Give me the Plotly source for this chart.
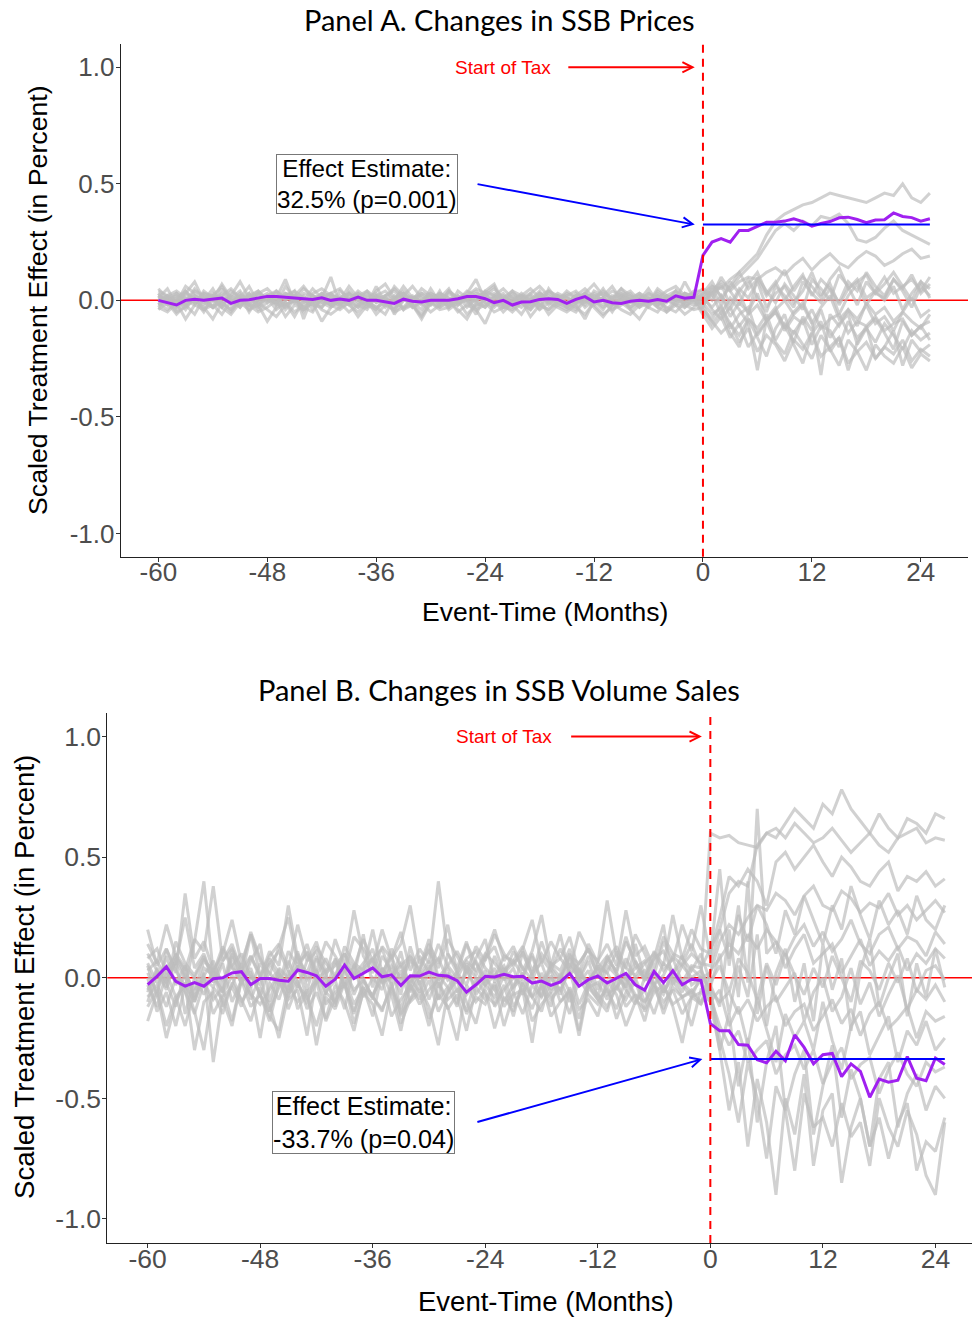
import plotly.graph_objects as go

# event time in months
months = list(range(-60, 26))

# treated unit (purple) - scaled treatment effect
treated_a = [0.0, -0.01, -0.02, 0.0, 0.005, 0.0, 0.005, 0.01, -0.013, 0.0,
             0.003, 0.01, 0.017, 0.017, 0.014, 0.011, 0.007, 0.004, 0.011, 0.0,
             0.006, 0.0, 0.014, 0.0, 0.0, -0.005, -0.013, 0.005, -0.004, -0.007,
             0.0, 0.0, 0.0, 0.007, 0.016, 0.016, 0.007, -0.01, 0.0, -0.02,
             -0.007, -0.006, 0.004, 0.007, 0.004, -0.013, 0.004, 0.016, -0.007, 0.0,
             -0.01, -0.013, -0.004, 0.0, -0.004, 0.004, -0.004, 0.019, 0.009, 0.013,
             0.193, 0.25, 0.265, 0.25, 0.30, 0.30, 0.317, 0.335, 0.335, 0.34,
             0.35, 0.338, 0.318, 0.33, 0.338, 0.354, 0.357, 0.347, 0.333, 0.345,
             0.346, 0.375, 0.36, 0.355, 0.34, 0.35]
treated_b = [-0.029, 0.006, 0.046, -0.015, -0.035, -0.02, -0.035, -0.004, 0.0, 0.02,
             0.025, -0.029, -0.003, -0.003, -0.01, -0.014, 0.032, 0.022, 0.008, -0.035,
             -0.006, 0.052, -0.003, 0.019, 0.041, 0.004, 0.012, -0.032, 0.008, 0.007,
             0.023, 0.01, 0.007, -0.012, -0.06, -0.029, 0.006, 0.003, 0.014, 0.004,
             0.006, -0.022, -0.014, -0.032, -0.017, 0.018, -0.035, -0.008, 0.007, -0.022,
             -0.003, 0.018, -0.029, -0.051, 0.026, -0.02, 0.029, -0.029, -0.006, -0.011,
             -0.19, -0.22, -0.22, -0.277, -0.28, -0.34, -0.353, -0.305, -0.344, -0.237,
             -0.289, -0.357, -0.319, -0.314, -0.41, -0.357, -0.388, -0.496, -0.42, -0.433,
             -0.425, -0.327, -0.417, -0.427, -0.333, -0.36]

effect_a = 0.325
effect_b = -0.337
label_a = "Effect Estimate:<br>32.5% (p=0.001)"
label_b = "Effect Estimate:<br>-33.7% (p=0.04)"

# tick labels (plain hyphen minus, as in the original)
xticks = [-60, -48, -36, -24, -12, 0, 12, 24]
xticktext = ["-60", "-48", "-36", "-24", "-12", "0", "12", "24"]
yticks = [-1, -0.5, 0, 0.5, 1]
yticktext = ["-1.0", "-0.5", "0.0", "0.5", "1.0"]

# placebo units (grey), values in hundredths, months -60..-1
placebo_a_pre = [
    [2, -1, 3, 0, -2, 4, 1, -3, 2, 0, -1, 3, 5, 1, -2, 0, 2, -4, 1, 3, 0, -2, 2, 4, -1, 1, -3, 0, 2, -1,
     3, 1, -2, 0, 4, 2, -1, -3, 1, 0, 2, -2, 1, 3, 0, -1, 2, 5, 1, -2, 0, 3, -1, 1, -3, 2, 0, 4, 1, 2],
    [-3, 1, -2, 4, 0, -5, 2, 1, -1, 3, -4, 0, 2, -2, 6, 1, -3, 0, 3, -1, -2, 4, 0, -3, 1, 2, -6, 0, 1, -2,
     5, -1, 0, 2, -3, 1, 3, -2, 0, 4, -1, -4, 2, 0, 1, -3, 3, -1, 2, 0, -5, 1, 3, -2, 0, 2, -1, 4, -3, 1],
    [4, 2, -1, 6, 3, 0, 5, -2, 2, 8, 1, 3, -1, 4, 0, 2, 6, 1, -3, 3, 5, 0, 2, -1, 4, 7, 1, 3, 0, 5,
     2, -2, 4, 1, 3, 9, 0, 2, 5, 1, -1, 3, 6, 2, 0, 4, 1, 3, 7, 2, 0, 5, 2, -1, 3, 1, 4, 6, 2, 3],
    [-4, -1, -6, -2, 0, -3, -8, -1, -4, 1, -2, -5, -3, 0, -7, -2, -4, -1, -9, -3, 0, -2, -5, -1, -3, -6, 1, -4, -2, -7,
     -1, -3, 0, -5, -2, -4, -10, -1, -3, -2, -6, 0, -4, -1, -3, -5, -2, -8, 0, -3, -1, -4, -6, -2, 0, -3, -5, -1, -2, -4],
    [1, 5, -2, 3, 8, 0, 2, -3, 4, 1, 6, -1, 2, 3, -4, 0, 5, 2, 1, 10, -2, 3, 0, 4, 1, -1, 6, 2, -3, 0,
     3, 1, 5, -2, 2, 0, 4, 7, -1, 3, 1, 2, -4, 5, 0, 3, 1, -2, 4, 2, 6, 0, 1, 3, -1, 5, 2, 0, 8, 1],
    [-2, 0, -5, -3, 1, -4, -2, -6, 0, -3, 2, -1, -4, -7, -2, 0, -3, -5, 1, -2, -4, -1, -3, 0, -6, -2, -4, 1, -3, -1,
     -5, -2, 0, -4, -8, -1, -3, 2, -2, -5, -1, -3, 0, -6, -2, -4, -1, 0, -3, -7, -2, 1, -4, -1, -3, -5, 0, -2, -6, -3],
    [3, -2, 1, -4, 2, 0, -3, 5, -1, 2, -5, 1, 3, -2, 0, 4, -8, 2, -1, 1, -3, 3, 0, -2, 6, -1, 2, -4, 1, 0,
     -2, 4, -3, 1, 0, -6, 2, 3, -1, -3, 1, 0, 4, -2, 2, -1, -4, 1, 3, 0, -2, 2, -3, 0, 5, -1, 1, -2, 3, 0],
    [0, 2, 4, 1, -1, 3, 2, 6, 0, 1, 3, -2, 2, 4, 1, 0, -1, 3, 5, 2, 1, 0, 3, -1, 2, 4, 0, 6, 1, 2,
     -1, 3, 1, 0, 2, 5, 3, -2, 1, 4, 2, 0, 3, 1, -1, 2, 4, 0, 2, 3, 1, 5, 0, 2, -1, 3, 1, 2, 0, 4],
    [-1, -4, 0, -2, -6, 1, -3, -1, -5, 0, -2, -3, 1, -4, -1, -7, 0, -2, -3, 1, -1, -5, -2, 0, -3, -1, -4, 2, -2, -6,
     0, -3, -1, -2, 1, -4, -2, 0, -5, -1, -3, 1, -2, -4, 0, -1, -3, -6, -1, 0, -4, -2, 0, -3, -1, 1, -5, -2, -3, 0],
    [5, 1, 3, -2, 4, 2, 0, 7, 1, -3, 2, 4, 0, 1, 9, -1, 3, 2, 0, -2, 4, 1, 3, 0, -4, 2, 5, 1, -1, 3,
     0, 2, -3, 4, 1, 0, 3, 6, -2, 1, 2, -1, 0, 4, 2, -2, 1, 3, 0, 5, -1, 2, 4, 0, 1, -3, 2, 0, 3, 1],
    [-3, -5, -1, -8, -2, -4, 0, -3, -6, -1, -4, -2, -9, -3, -1, -5, -2, 0, -4, -6, -3, -1, -7, -2, -4, 0, -5, -3, -2, -8,
     -1, -4, -3, 0, -6, -2, -1, -5, -3, -4, 0, -7, -2, -4, -1, -3, -5, 0, -2, -6, -3, -1, -4, -8, -2, 0, -3, -5, -1, -2],
    [2, 0, 1, 4, -1, 3, 0, 2, 5, 1, -2, 3, 1, 0, 2, 4, 1, -1, 3, 2, 0, 6, 1, 3, -1, 2, 4, 0, 1, 3,
     2, -1, 4, 1, 0, 3, 2, 5, 1, -1, 3, 0, 2, 4, 1, 2, -2, 3, 0, 1, 4, 2, 0, 3, 1, -1, 2, 4, 1, 0],
    [1, -2, 0, 3, -1, 2, -3, 0, 1, 4, -2, 0, 2, -1, 3, 1, -4, 0, 2, -2, 1, 3, -1, 0, 2, -3, 1, 4, 0, -1,
     2, -2, 3, 0, 1, -1, 4, 2, -3, 0, 1, 3, -2, 0, 2, 1, -1, 3, 0, -4, 2, 1, -1, 0, 3, -2, 1, 0, 2, -1],
    [-2, 1, -4, 0, 2, -1, -3, 1, 0, -2, 3, -4, -1, 1, -2, 0, -5, 2, -1, -3, 0, 1, -2, -4, 2, 0, -1, -3, 1, 0,
     -2, 2, -4, -1, 0, -3, 1, -2, 0, 2, -1, -4, 0, 1, -2, -1, 2, -3, 0, 1, -2, 0, -3, 1, -1, 2, -4, 0, -1, 1],
    [3, 0, 2, -1, 5, 1, 0, 3, -2, 2, 1, 4, 0, -1, 3, 2, 0, 5, 1, -2, 2, 0, 4, 1, 3, -1, 0, 2, 6, 1,
     0, 3, 1, -1, 2, 4, 0, 1, 3, -2, 2, 5, 1, 0, 3, 1, -1, 2, 0, 4, 1, 3, 0, 2, -1, 4, 1, 0, 3, 2],
    [-1, 2, -3, 1, 0, -2, 3, -1, -4, 0, 2, -2, 1, -1, -3, 2, 0, -2, 1, 3, -1, 0, -3, 2, 1, -2, 0, 3, -1, -4,
     1, 0, -2, 2, -1, 0, -3, 1, 2, -1, 0, -2, 3, -1, 1, -3, 0, 2, -2, 1, -1, 0, 2, -3, 1, -2, 0, 1, -1, 2],
]
# months 0..25
placebo_a_post = [
    [3, 6, 5, 9, 12, 16, 20, 28, 34, 37, 39, 41, 42, 44, 46, 45, 44, 43, 42, 44, 46, 45, 50, 44, 42, 46],
    [2, 4, 8, 5, 10, 14, 18, 24, 30, 33, 30, 34, 32, 36, 35, 37, 33, 26, 25, 27, 31, 34, 30, 28, 26, 24],
    [0, 3, 6, 4, 8, 10, 9, 12, 14, 11, 15, 18, 13, 17, 20, 16, 14, 18, 21, 19, 15, 17, 20, 22, 18, 19],
    [-3, 5, -2, 8, 3, -6, 10, 4, -1, 7, 2, -4, 9, 5, 0, 11, 6, -2, 8, 3, 1, 9, 4, -3, 6, 2],
    [-5, -9, -14, -10, -18, -12, -22, -15, -19, -26, -17, -21, -14, -24, -20, -16, -27, -22, -18, -25, -20, -23, -17, -26, -21, -24],
    [2, -4, -8, -3, -11, -6, -2, -9, -5, -13, -7, -10, -4, -12, -8, -6, -14, -9, -11, -7, -13, -10, -8, -15, -11, -9],
    [-2, 3, -6, 1, -4, -10, -30, -8, -3, -12, -5, -1, -9, -32, -6, -11, -4, -8, -2, -10, -7, -13, -5, -9, -12, -6],
    [4, 0, 7, -2, 5, 1, 8, -3, 3, 6, -1, 4, 12, 2, 7, -2, 5, 9, 1, 4, 10, 3, 6, 0, 8, 5],
    [-6, -12, -7, -16, -10, -20, -14, -9, -18, -23, -13, -19, -25, -15, -21, -28, -17, -22, -30, -19, -24, -27, -20, -29, -23, -26],
    [1, -3, 2, -7, -1, -5, 3, -9, -4, 0, -6, -2, -10, -3, 2, -8, -4, -11, -1, -6, -3, -9, -5, 1, -7, -4],
    [-1, -6, -3, -10, -15, -8, -12, -6, -17, -10, -14, -8, -19, -11, -13, -20, -9, -16, -12, -18, -10, -15, -21, -13, -17, -14],
    [3, 8, 1, 6, 12, 5, 9, 2, 7, 13, 4, 10, 6, 1, 9, 14, 5, 8, 11, 3, 7, 12, 6, 9, 4, 10],
    [0, 6, 2, -4, 4, 9, 1, -5, 6, 2, -3, 8, 3, -1, 5, -6, 2, 7, -2, 4, 0, 6, -4, 3, 8, 1],
    [-4, -8, -2, -12, -6, -3, -15, -9, -5, -11, -18, -7, -13, -4, -16, -10, -6, -19, -12, -8, -14, -21, -9, -15, -11, -17],
    [5, 2, 10, 4, -2, 7, 12, 3, 8, 0, 6, 11, 2, 9, 5, -1, 8, 4, 12, 6, 2, 9, 5, 11, 3, 7],
    [-2, -10, -5, -14, -20, -8, -16, -24, -12, -6, -19, -27, -14, -9, -22, -16, -30, -18, -11, -25, -20, -13, -28, -17, -22, -19],
]

placebo_b_pre = [
    [5, -8, 12, 3, -4, 15, 40, 2, -6, 9, -3, 7, 14, -10, 4, 0, 11, -5, 8, 2, -12, 6, 1, 18, -4, 9, 3, -7, 13, 0,
     5, -9, 10, 2, -3, 8, 16, -2, 4, -6, 11, 1, -8, 6, 3, 12, -1, 7, -5, 9, 2, -4, 14, 0, 8, 22, -3, 5, 10, 6],
    [-10, 2, -5, 8, -15, 0, -7, 4, -12, -3, 6, -9, 1, -14, -4, 7, -2, -11, 3, -6, -1, -13, 5, -8, 0, -5, 10, -16, -2, 3,
     -9, 1, -4, -12, 6, -7, -1, 4, -10, -3, 2, -8, -14, 0, -5, 3, -11, -2, 5, -7, -4, 1, -9, -13, 2, -6, 0, -3, -8, 1],
    [14, 6, 22, 9, 3, 16, 11, 38, 7, 12, 4, 19, 8, 1, 13, 25, 6, 10, 3, 15, 9, 2, 17, 12, 5, 20, 8, 14, 30, 6,
     11, 4, 16, 9, 2, 13, 7, 18, 10, 5, 12, 24, 6, 15, 8, 3, 19, 11, 7, 14, 5, 28, 9, 13, 4, 17, 10, 8, 20, 12],
    [-5, 3, -2, 7, 0, -9, 4, 1, -6, 10, 2, -4, 6, -1, 3, -8, 5, 0, 9, -3, 1, 4, -7, 2, 8, -2, 0, 5, -5, 3,
     12, -1, 4, -6, 2, 7, -3, 1, 5, -4, 0, 9, -2, 3, -7, 6, 1, -1, 4, 2, -5, 8, 0, 3, -3, 6, 2, -6, 4, 0],
    [0, -14, -6, -20, -3, -10, 2, -35, -8, -4, -12, 1, -7, -18, -2, -9, -5, -24, 0, -11, -6, -3, -15, -1, -8, -13, -4, 3, -10, -6,
     -20, -2, -9, -5, -14, 0, -7, -11, -3, -16, -1, -8, -4, -12, 2, -6, -22, -3, -9, -5, -13, 0, -7, -10, -2, -15, -4, -8, -6, -11],
    [8, 12, 2, 6, 25, 4, 10, -1, 7, 14, 3, 9, 0, 11, 5, 30, 8, 2, 13, 6, 1, 10, 4, 16, 7, 0, 12, 5, 9, 3,
     14, 6, 22, 2, 8, 11, 4, 0, 9, 7, 13, 3, 10, 5, 18, 1, 6, 12, 4, 9, 2, 15, 7, 0, 11, 5, 26, 8, 3, 10],
    [-8, -3, -12, 0, -6, -15, -2, -9, -4, -18, -1, -7, -11, -5, 2, -13, -3, -8, -20, -6, -10, -2, -14, -4, -7, 0, -16, -9, -3, -11,
     -5, -1, -13, -7, -22, -4, -9, -2, -12, -6, -15, -3, -8, 1, -10, -5, -17, -2, -7, -12, -4, -9, -1, -14, -6, -3, -11, -8, -5, -10],
    [3, 7, -1, 10, 4, 0, 8, 2, 13, 5, -2, 9, 1, 6, 11, 3, -4, 7, 15, 2, 5, 10, 0, 4, 8, 12, 1, 6, -3, 9,
     2, 14, 5, 0, 7, 3, 10, 6, 1, 11, 4, -1, 8, 3, 12, 5, 0, 9, 2, 7, 13, 4, 1, 6, 10, 3, 8, -2, 5, 4],
    [-12, -5, -20, -8, -3, -30, -10, -6, -15, -2, -9, -18, -4, -11, -25, -7, -1, -13, -6, -17, -3, -10, -22, -5, -8, -14, -2, -19, -9, -4,
     -12, -28, -6, -1, -15, -8, -11, -3, -20, -7, -5, -13, -2, -16, -10, -6, -24, -4, -9, -14, -1, -12, -7, -18, -3, -10, -5, -15, -8, -6],
    [6, -2, 4, 9, 1, -5, 7, 3, -1, 5, 10, 0, -3, 8, 2, -6, 4, 11, -1, 3, 7, -4, 1, 6, 12, -2, 5, 0, 9, -3,
     4, 8, -1, 2, 14, 6, 0, -5, 3, 7, 1, 10, -2, 5, 0, 8, 3, -4, 6, 2, 11, -1, 4, 7, -3, 1, 9, 5, 0, 3],
    [20, 5, 12, 2, 35, 8, 15, 3, 10, 24, 6, 18, 1, 9, 14, 4, 22, 7, 11, 0, 16, 5, 28, 9, 2, 13, 8, 19, 3, 12,
     6, 40, 10, 4, 15, 1, 9, 20, 7, 13, 3, 11, 26, 5, 8, 17, 2, 14, 6, 32, 9, 4, 18, 10, 1, 15, 7, 22, 11, 30],
    [-18, -6, -25, -10, -2, -14, -30, -4, -9, -20, -1, -12, -7, -16, -22, -3, -10, -5, -28, -8, -13, -2, -19, -6, -11, -24, -4, -15, -9, -1,
     -17, -7, -12, -26, -3, -10, -5, -21, -8, -14, -2, -18, -11, -6, -23, -4, -13, -9, -16, -1, -7, -20, -10, -5, -15, -3, -12, -27, -8, -11],
    [2, -6, 9, -3, 5, -10, 1, 7, -4, 12, -2, 4, -8, 6, 0, -5, 10, -1, 3, -7, 8, -3, 5, 0, -9, 4, -2, 11, -6, 1,
     7, -4, 2, -11, 5, 0, -3, 9, -1, 4, -7, 2, 6, -5, 0, 10, -2, 3, -8, 5, 1, -4, 7, -1, 3, -6, 2, 9, -3, 0],
    [-6, 4, -2, -12, 3, -8, 0, -4, 6, -10, -1, 2, -7, -14, 1, -3, 5, -9, -2, 0, -11, 3, -5, -1, -8, 4, -3, -13, 0, -6,
     2, -9, -4, 1, -7, -2, 3, -12, -5, 0, -3, -8, 2, -6, -1, -10, 4, -4, -2, -9, 1, -5, -11, 0, -3, -7, 3, -2, -6, -1],
    [10, 3, -4, 15, 6, 1, 9, -2, 12, 4, 0, 18, 7, 2, -3, 11, 5, 14, 1, 8, -1, 13, 6, 3, 20, 2, 9, -2, 7, 4,
     16, 0, 5, 11, 3, -4, 8, 13, 2, 6, 10, 1, 15, 4, -2, 9, 6, 12, 0, 7, 3, 17, 5, -1, 8, 11, 2, 6, 14, 4],
    [-3, -12, 2, -8, -20, -5, 0, -15, -7, 1, -10, -4, -25, -2, -9, 3, -13, -6, -1, -18, -8, 0, -11, -4, -16, 2, -7, -22, -3, -9,
     -1, -14, -6, 0, -10, -19, -3, -8, 1, -12, -5, -27, -2, -9, -4, -15, 0, -7, -11, -3, -17, -6, 0, -10, -4, -13, -1, -8, -20, -5],
]
placebo_b_post = [
    [5, 20, 35, 40, 38, 55, 60, 58, 64, 70, 66, 62, 72, 68, 78, 70, 65, 60, 68, 62, 58, 66, 64, 60, 68, 66],
    [60, 58, 59, 56, 55, 54, 60, 62, 58, 64, 60, 56, 58, 62, 57, 52, 56, 60, 55, 52, 58, 60, 62, 56, 58, 57],
    [10, 25, 42, 38, 45, 40, 30, 48, 52, 45, 50, 55, 48, 42, 50, 46, 40, 38, 44, 48, 36, 42, 40, 44, 38, 41],
    [2, 15, 22, 18, 25, 30, 28, 35, 32, 26, 34, 38, 30, 28, 36, 33, 27, 31, 29, 35, 26, 30, 24, 28, 32, 27],
    [3, 8, 14, 10, 18, 12, 20, 15, 9, 17, 22, 13, 19, 11, 16, 24, 14, 10, 18, 21, 12, 17, 15, 9, 19, 14],
    [-2, 5, -6, 8, 2, -9, 6, -3, 10, 1, -7, 4, -4, 9, 0, -10, 7, 3, -5, 6, -2, 8, -6, 3, 5, -1],
    [-5, -10, -6, -15, -9, -18, -12, -8, -20, -14, -11, -22, -16, -9, -19, -13, -24, -15, -10, -21, -17, -12, -25, -14, -18, -16],
    [-8, -20, -28, -22, -35, -30, -26, -40, -32, -28, -38, -30, -44, -35, -29, -42, -36, -33, -48, -38, -31, -40, -45, -35, -39, -37],
    [-10, -30, -55, -35, -70, -42, -60, -90, -50, -65, -40, -78, -55, -48, -85, -62, -50, -70, -58, -75, -60, -52, -80, -68, -72, -58],
    [-5, -25, -40, -60, -35, -50, -75, -45, -55, -80, -48, -62, -58, -70, -52, -66, -60, -78, -50, -62, -70, -55, -65, -82, -90, -60],
    [8, 45, 5, 30, -2, 70, 10, 15, 4, 12, 18, 6, 10, 14, 2, 9, 16, 5, 11, 7, 13, 3, 10, 6, 12, 8],
    [-3, -12, 20, -8, 40, -15, 5, -10, -4, 2, -18, -6, 0, -14, -8, 4, -11, -2, -16, -7, 1, -13, -5, -9, -3, -10],
    [-4, 10, -15, 5, -8, 18, -20, 2, 12, -10, 6, -18, 14, -5, 8, -22, 3, 16, -12, 0, 10, -16, 6, -8, 12, -4],
    [-10, -5, -20, -12, -28, -8, -22, -35, -15, -25, -18, -30, -10, -26, -38, -20, -14, -32, -24, -16, -35, -22, -28, -18, -30, -25],
    [12, 20, 8, 26, 15, 30, 22, 10, 28, 18, 34, 24, 14, 30, 20, 38, 26, 16, 32, 22, 28, 18, 34, 24, 20, 30],
    [-6, -30, -15, -45, -25, -60, -35, -20, -55, -40, -30, -65, -45, -28, -58, -38, -50, -70, -42, -35, -62, -48, -40, -55, -45, -50],
]

W, H = 972, 1317
GREY = "rgba(190,190,190,0.7)"
PURPLE = "#a020f0"
AX_FONT = "Liberation Sans, Arial, sans-serif"


def px(x):
    return x / W


def py(y):
    return 1 - y / H


fig = go.Figure()

panels = [
    ("x", "y", placebo_a_pre, placebo_a_post, treated_a, effect_a),
    ("x2", "y2", placebo_b_pre, placebo_b_post, treated_b, effect_b),
]
for xa, ya, pre, post, treated, effect in panels:
    for p0, p1 in zip(pre, post):
        vals = [v / 100 for v in p0 + p1]
        fig.add_trace(go.Scatter(x=months[:len(vals)], y=vals, mode="lines", xaxis=xa, yaxis=ya,
                                 line=dict(color=GREY, width=3), hoverinfo="skip", showlegend=False))
    fig.add_trace(go.Scatter(x=months, y=treated, mode="lines", xaxis=xa, yaxis=ya,
                             line=dict(color=PURPLE, width=3), showlegend=False))
    post_months = [m for m in months if m >= 0]
    fig.add_trace(go.Scatter(x=[post_months[0], post_months[-1]], y=[effect, effect], mode="lines",
                             xaxis=xa, yaxis=ya, line=dict(color="blue", width=2), showlegend=False))
    # zero line (under the placebo lines) and start-of-tax line
    fig.add_shape(type="line", xref=xa + " domain", yref=ya, x0=0, x1=1, y0=0, y1=0,
                  line=dict(color="red", width=1.5), layer="below")
    fig.add_shape(type="line", xref=xa, yref=ya + " domain", x0=0, x1=0, y0=0, y1=1,
                  line=dict(color="red", width=2, dash="8px,6px"), layer="above")

axis_common = dict(showline=True, linecolor="#222", linewidth=1, ticks="outside", ticklen=4,
                   tickcolor="#333", showgrid=False, zeroline=False)


def tfont(size):
    return dict(family=AX_FONT, size=size, color="#4d4d4d")


fig.update_layout(
    width=W, height=H, plot_bgcolor="white", paper_bgcolor="white",
    margin=dict(l=0, r=0, t=0, b=0), showlegend=False,
    xaxis=dict(domain=[px(120.7), px(968)], range=[-64.15, 29.2], anchor="y",
               tickvals=xticks, ticktext=xticktext, tickfont=tfont(26), ticklabelstandoff=-12,
               **axis_common),
    yaxis=dict(domain=[py(556.7), py(44)], range=[-1.1, 1.1], anchor="x",
               tickvals=yticks, ticktext=yticktext, tickfont=tfont(26), ticklabelstandoff=-4,
               **axis_common),
    xaxis2=dict(domain=[px(107.3), 1.0], range=[-64.3, 27.9], anchor="y2",
                tickvals=xticks, ticktext=xticktext, tickfont=tfont(26.5), ticklabelstandoff=-12,
                **axis_common),
    yaxis2=dict(domain=[py(1243), py(712.5)], range=[-1.1, 1.1], anchor="x2",
                tickvals=yticks, ticktext=yticktext, tickfont=tfont(26.5), ticklabelstandoff=-4,
                **axis_common),
)

ann = []
centre = dict(xanchor="center", yanchor="middle", showarrow=False, xref="paper", yref="paper")
# panel titles
for text, y in [("Panel A. Changes in SSB Prices", 20), ("Panel B. Changes in SSB Volume Sales", 689)]:
    ann.append(dict(text=text, x=px(499), y=py(y),
                    font=dict(family="Lato, sans-serif", size=29, color="black"), **centre))
# axis titles
for x, y, s in [(545, 612, 26.5), (546, 1301, 27.5)]:
    ann.append(dict(text="Event-Time (Months)", x=px(x), y=py(y),
                    font=dict(family=AX_FONT, size=s, color="black"), **centre))
for x, y, s in [(38, 300, 26.7), (24, 977, 27.6)]:
    ann.append(dict(text="Scaled Treatment Effect (in Percent)", x=px(x), y=py(y), textangle=-90,
                    font=dict(family=AX_FONT, size=s, color="black"), **centre))

for xa, ya, label, tail, head, s in [("x", "y", label_a, (-25.0, 0.50), (-0.9, effect_a), 24.2),
                                     ("x2", "y2", label_b, (-25.0, -0.60), (-0.85, effect_b), 25.2)]:
    # start of tax
    ann.append(dict(text="Start of Tax", x=-22.0, y=1.0, xref=xa, yref=ya, showarrow=False,
                    xanchor="center", yanchor="middle",
                    font=dict(family=AX_FONT, size=19, color="red")))
    ann.append(dict(text="", x=-0.9, y=1.0, ax=-15.0, ay=1.0, xref=xa, yref=ya, axref=xa, ayref=ya,
                    showarrow=True, arrowhead=5, arrowsize=1, arrowwidth=2, arrowcolor="red"))
    # effect estimate box and arrow
    ann.append(dict(text=label, x=-37.0, y=tail[1], xref=xa, yref=ya, showarrow=False,
                    xanchor="center", yanchor="middle",
                    bordercolor="#777", borderwidth=1, borderpad=0, bgcolor="white",
                    font=dict(family=AX_FONT, size=s, color="black")))
    ann.append(dict(text="", x=head[0], y=head[1], ax=tail[0], ay=tail[1], xref=xa, yref=ya,
                    axref=xa, ayref=ya, showarrow=True, arrowhead=5, arrowsize=1, arrowwidth=2,
                    arrowcolor="blue"))

fig.update_layout(annotations=ann)
# drop the browser's default 8px body margin so the figure sits at the page corner
fig.write_html("out.html", config={"displayModeBar": False},
               post_script="document.body.style.margin='0px';")
